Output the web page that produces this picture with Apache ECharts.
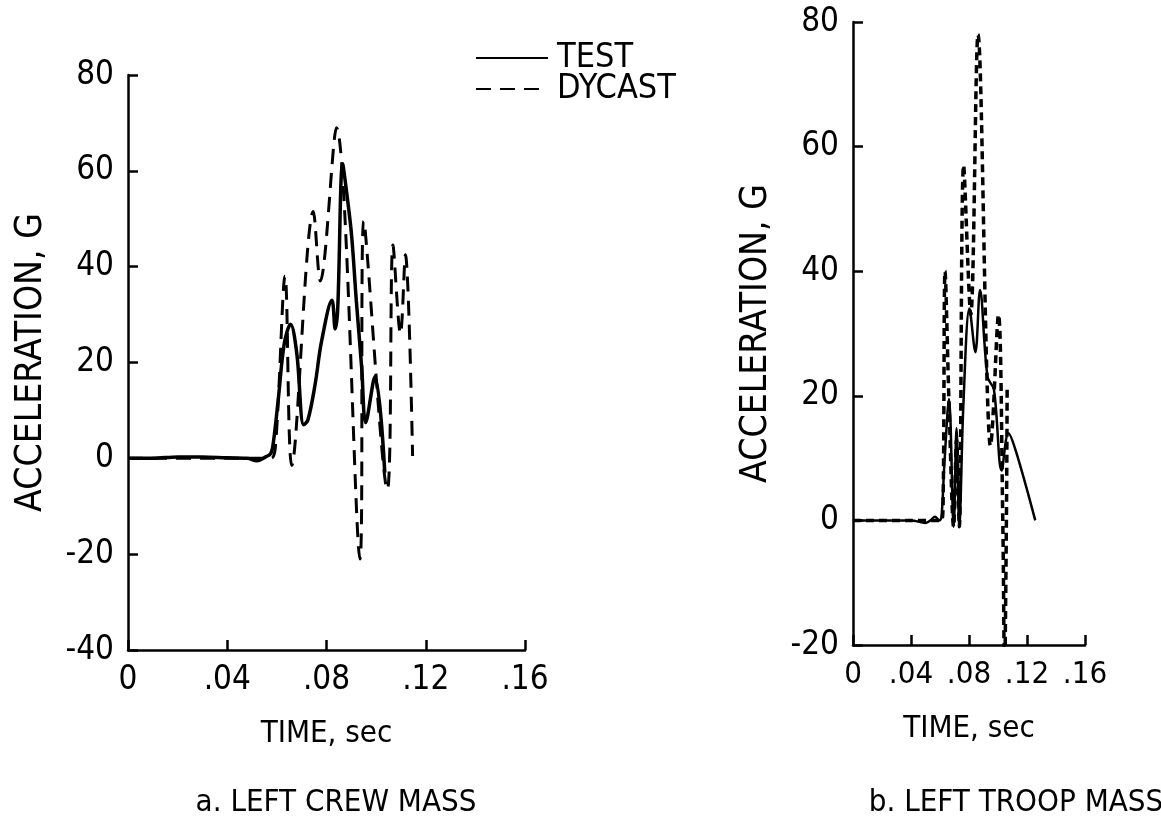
<!DOCTYPE html>
<html><head><meta charset="utf-8">
<script src="https://cdn.jsdelivr.net/npm/echarts@6/dist/echarts.min.js"></script>
<style>html,body{margin:0;padding:0;background:#fff}#c{width:1161px;height:816px}</style>
</head><body><div id="c"></div>
<script>
// ---- tick labels ----
const xTickLabels = ['0', '.04', '.08', '.12', '.16'];
const leftYTickLabels = ['-40', '-20', '0', '20', '40', '60', '80'];
const rightYTickLabels = ['-20', '0', '20', '40', '60', '80'];
const panelTitles = ['a. LEFT CREW MASS', 'b. LEFT TROOP MASS'];
const seriesNames = ['TEST', 'DYCAST'];

// ---- a. LEFT CREW MASS ----
const leftTestT = [0, 0.010, 0.020, 0.030, 0.040, 0.048, 0.052, 0.0555, 0.0575, 0.0585, 0.0605, 0.0630, 0.0655, 0.0680, 0.0708, 0.0725, 0.0754, 0.0780, 0.0822, 0.0835, 0.0845, 0.0865, 0.0880, 0.0901, 0.0920, 0.0942, 0.0958, 0.0995, 0.1035];
const leftTestV = [0, 0, 0.3, 0.3, 0.1, 0, -0.5, 0.3, 1, 3, 12, 24, 28, 22, 7, 8, 15.4, 24.4, 33, 27, 31, 61.5, 56, 46.6, 33, 18.8, 7.5, 17, -3];
const leftDycT = [0, 0.040, 0.0575, 0.0595, 0.0633, 0.0660, 0.0747, 0.0775, 0.0840, 0.0935, 0.0950, 0.1045, 0.1068, 0.1098, 0.1118, 0.1147];
const leftDycV = [0, 0, 0, 3, 38, -1.5, 51.5, 37, 69, -21, 49.5, -6.5, 44.5, 26, 42.5, 0.5];

// ---- b. LEFT TROOP MASS ----
const rightTestT = [0, 0.020, 0.040, 0.0500, 0.0535, 0.0565, 0.0595, 0.0610, 0.0630, 0.0662, 0.0694, 0.0714, 0.0733, 0.0762, 0.0803, 0.0844, 0.0876, 0.0928, 0.0972, 0.1025, 0.1072, 0.1125, 0.1257];
const rightTestV = [0, 0, 0, -0.4, 0, 0.6, 0, 0.5, 9, 19.5, -1, 14.8, -1, 19, 34, 27, 37, 23, 21, 8, 14, 11, 0];
const rightDycT = [0, 0.040, 0.0610, 0.0622, 0.0635, 0.0662, 0.0694, 0.0714, 0.0733, 0.0763, 0.0812, 0.0862, 0.0926, 0.0947, 0.1003, 0.1033, 0.1045, 0.1058, 0.1063];
const rightDycV = [0, 0, 0, 4, 40, 19, -1, 13, -1, 57, 33, 78, 21, 12, 33, 0, -24, 0, 21];

const FONT = '"Liberation Sans Narrow", "DejaVu Sans Condensed", "Liberation Sans", sans-serif';
const pairs = (t, v) => t.map((x, i) => [x, v[i]]);

function xAxisCfg(gi, fs) {
  return {
    type: 'value', gridIndex: gi, min: 0, max: 0.16, interval: 0.04,
    axisLine: { show: true, onZero: false, lineStyle: { color: '#000', width: 2.5 } },
    axisTick: { show: true, inside: true, length: 10, lineStyle: { color: '#000', width: 2.5 } },
    axisLabel: { color: '#000', fontSize: fs, fontFamily: FONT, margin: 14,
      formatter: v => xTickLabels[Math.round(v / 0.04)] },
    splitLine: { show: false },
    name: 'TIME, sec', nameLocation: 'middle', nameGap: 68,
    nameTextStyle: { color: '#000', fontSize: 31, fontFamily: FONT }
  };
}
function yAxisCfg(gi, min, labels) {
  return {
    type: 'value', gridIndex: gi, min: min, max: 80, interval: 20,
    axisLine: { show: true, onZero: false, lineStyle: { color: '#000', width: 2.5 } },
    axisTick: { show: true, inside: true, length: 10, lineStyle: { color: '#000', width: 2.5 } },
    axisLabel: { color: '#000', fontSize: 33, fontFamily: FONT, margin: 14,
      formatter: v => labels[Math.round((v - min) / 20)] },
    splitLine: { show: false },
    name: 'ACCELERATION, G', nameLocation: 'middle', nameGap: 78,
    nameTextStyle: { color: '#000', fontSize: 37, fontFamily: FONT }
  };
}
function lineSeries(name, gi, data, type, width) {
  return {
    name: name, type: 'line', xAxisIndex: gi, yAxisIndex: gi, data: data,
    symbol: 'none', showSymbol: false, smooth: 0.35,
    lineStyle: { color: '#000', width: width, type: type },
    itemStyle: { color: '#000' }, animation: false
  };
}

const chart = echarts.init(document.getElementById('c'));
chart.setOption({
  backgroundColor: '#fff',
  animation: false,
  title: [
    { text: panelTitles[0], left: 331, top: 782, textAlign: 'center',
      textStyle: { color: '#000', fontSize: 31, fontWeight: 'normal', fontFamily: FONT } },
    { text: panelTitles[1], left: 1011, top: 782, textAlign: 'center',
      textStyle: { color: '#000', fontSize: 31, fontWeight: 'normal', fontFamily: FONT } }
  ],
  legend: {
    left: 470, top: 36, orient: 'vertical', itemWidth: 72, itemHeight: 14, itemGap: -3,
    itemStyle: { opacity: 0 },
    textStyle: { color: '#000', fontSize: 34, fontFamily: FONT, padding: [0, 0, 0, 4] },
    data: seriesNames
  },
  grid: [
    { left: 128, top: 75, width: 397, height: 575, outerBoundsMode: 'none', containLabel: false },
    { left: 853, top: 22, width: 232, height: 623, outerBoundsMode: 'none', containLabel: false }
  ],
  xAxis: [xAxisCfg(0, 33), xAxisCfg(1, 31)],
  yAxis: [yAxisCfg(0, -40, leftYTickLabels), yAxisCfg(1, -20, rightYTickLabels)],
  series: [
    lineSeries(seriesNames[0], 0, pairs(leftTestT, leftTestV), 'solid', 3.5),
    lineSeries(seriesNames[1], 0, pairs(leftDycT, leftDycV), [15, 9], 3),
    lineSeries(seriesNames[0], 1, pairs(rightTestT, rightTestV), 'solid', 2.5),
    lineSeries(seriesNames[1], 1, pairs(rightDycT, rightDycV), [8, 5], 3.5)
  ]
});
</script></body></html>
